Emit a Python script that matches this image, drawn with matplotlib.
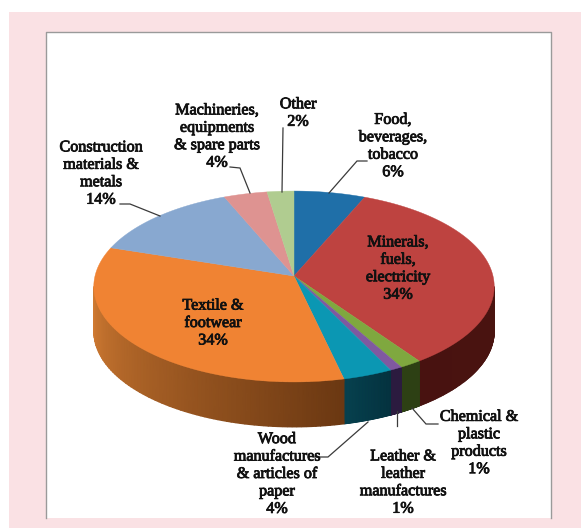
#!/usr/bin/env python3
"""Export structure pie, drawn as a tilted 3D pie with a shaded side wall."""

import numpy as np
import matplotlib.pyplot as plt
import matplotlib.patheffects as pe
from matplotlib.colors import LinearSegmentedColormap
from matplotlib.patches import Rectangle

categories = [
    "Food,\nbeverages,\ntobacco",
    "Minerals,\nfuels,\nelectricity",
    "Chemical &\nplastic\nproducts",
    "Leather &\nleather\nmanufactures",
    "Wood\nmanufactures\n& articles of\npaper",
    "Textile &\nfootwear",
    "Construction\nmaterials &\nmetals",
    "Machineries,\nequipments\n& spare parts",
    "Other",
]
# printed percentages
percent_labels = [6, 34, 1, 1, 4, 34, 14, 4, 2]
# slice sizes as measured on the picture (the printed ones are rounded)
shares = [6.4, 33.9, 1.6, 0.9, 3.6, 33.6, 13.7, 3.9, 2.4]

top_colors = ["#1F6FA8", "#BE4340", "#7FA83F", "#8059A0", "#0B97B3",
              "#F08333", "#88A8D0", "#DE9391", "#B0CC90"]
# wall shade at the start and end of each slice, clockwise
wall_colors = [("#12456A", "#12456A"), ("#4A1410", "#481210"), ("#2D4014", "#2D4014"),
               ("#2B1B3F", "#2B1B3F"), ("#04323F", "#06414F"), ("#6B3812", "#D27C33"),
               ("#55688A", "#55688A"), ("#8A5A58", "#8A5A58"), ("#6E8058", "#6E8058")]

label_pos = [(393, 146), (398, 268.5), (479, 443), (403, 482.5), (277, 474),
             (213, 323), (101, 173.5), (217, 136.5), (298, 113)]

leaders = [
    [(367, 161), (357, 161), (329, 193)],
    [(438, 424), (426, 424), (412, 408)],
    [(397, 411), (397, 426)],
    [(313, 457), (328, 457), (368, 422)],
    [(120, 204), (130, 204), (160, 216)],
    [(230, 167), (240, 168), (250, 193)],
    [(283, 128), (282, 192)],
]

CX, CY = 294, 276
RX, RY = 199, 94.3
PERSP = 0.11
DEPTH = 45


def project(theta):
    """Clockwise angle from twelve o'clock to pixel position on the tilted disc."""
    x, y = np.sin(theta), np.cos(theta)
    w = 1 + PERSP * y
    return CX + RX * x / w, CY - RY * y / w


def draw_wall(ax, starts, ends):
    right = np.arccos(-PERSP)
    left = 2 * np.pi - right
    for a, b, pair in zip(starts, ends, wall_colors):
        a2, b2 = max(a, right), min(b, left)
        if b2 <= a2:
            continue
        t = np.linspace(a2, b2, 80)
        xs, ys = project(t)
        grid_x = np.vstack([xs, xs])
        grid_y = np.vstack([ys, ys + DEPTH])
        shade = np.vstack([np.linspace(0, 1, t.size)] * 2)
        cmap = LinearSegmentedColormap.from_list("wall", pair)
        ax.pcolormesh(grid_x, grid_y, shade, cmap=cmap, vmin=0, vmax=1,
                      shading="gouraud", zorder=2)


def main():
    fig = plt.figure(figsize=(5.81, 5.28), dpi=100, facecolor="white")
    ax = fig.add_axes([0, 0, 1, 1])
    ax.axis("off")

    ax.add_patch(Rectangle((9, 12), 572, 516, fc="#FAE1E4", ec="none", zorder=0))
    ax.add_patch(Rectangle((45.5, 31.5), 505, 486.5, fc="white", ec="none", zorder=1))
    ax.plot([45.5, 45.5, 550.5, 550.5], [518, 31.5, 31.5, 518], color="#9A9A9A", lw=1.0, zorder=1)

    edges = np.cumsum([0] + shares) / sum(shares) * 2 * np.pi
    starts, ends = edges[:-1], edges[1:]
    draw_wall(ax, starts, ends)

    for a, b, color in zip(starts, ends, top_colors):
        xs, ys = project(np.linspace(a, b, 120))
        ax.fill(np.r_[CX, xs], np.r_[CY, ys], fc=color, ec=color, lw=0.3, zorder=3)

    for line in leaders:
        ax.plot(*zip(*line), color="#3A3A3A", lw=0.9, zorder=4, solid_joinstyle="miter")

    for name, pct, (x, y) in zip(categories, percent_labels, label_pos):
        ax.text(x, y, f"{name}\n{pct}%", ha="center", va="center", multialignment="center",
                family="Liberation Serif", fontsize=11.6, color="#111111", linespacing=1.12,
                zorder=5, path_effects=[pe.withStroke(linewidth=0.6, foreground="#111111")])

    ax.set_xlim(0, 581)
    ax.set_ylim(528, 0)
    fig.savefig("out.png", dpi=100, facecolor="white")


if __name__ == "__main__":
    main()
